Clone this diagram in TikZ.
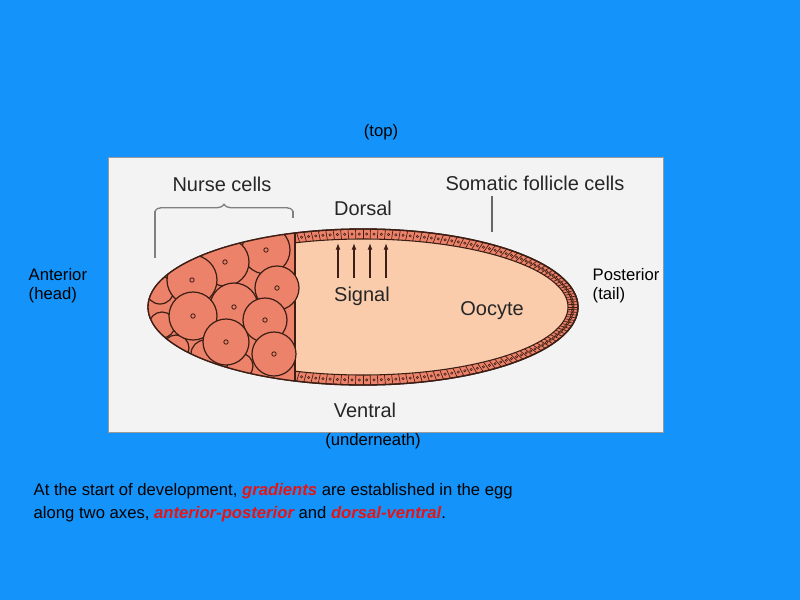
\documentclass[tikz,border=0pt]{standalone}
\usepackage{fontspec}
\setmainfont{Liberation Sans}
\usetikzlibrary{decorations.pathreplacing,arrows.meta,calc}
\definecolor{bg}{RGB}{20,148,250}
\definecolor{panel}{RGB}{243,243,243}
\definecolor{salmon}{RGB}{236,130,106}
\definecolor{peach}{RGB}{250,204,172}
\definecolor{edge}{RGB}{60,30,20}
\definecolor{hl}{RGB}{230,20,20}
\begin{document}
\begin{tikzpicture}[x=0.75pt,y=-0.75pt,
  lab/.style={font=\fontsize{15}{17}\selectfont,text=black!85},
  side/.style={font=\fontsize{12.5}{14.5}\selectfont,align=left,anchor=west},
  nurse/.style={draw=edge,line width=0.9pt,fill=salmon},
  sig/.style={-{Latex[length=5pt]},line width=0.9pt,draw=edge}]
\fill[bg] (0,0) rectangle (800,600);
\useasboundingbox (0,0) rectangle (800,600);
\fill[panel,draw=black!40] (108,157) rectangle (663,432);
% egg
\fill[salmon,draw=edge,line width=1pt] (363,307) ellipse [x radius=215,y radius=78];
\fill[peach,draw=edge,line width=0.8pt] (363,307) ellipse [x radius=205,y radius=68];
\foreach \t in {-108,-106,...,108}{
  \draw[edge,line width=0.5pt] ($(363,307)+(\t:205 and 68)$) -- ($(363,307)+(\t:215 and 78)$);
}
\foreach \t in {-107,-105,...,107}{
  \draw[edge,line width=0.4pt] ($(363,307)+(\t:210 and 73)$) circle[radius=1.2];
}
% nurse region
\begin{scope}
\clip (363,307) ellipse [x radius=215,y radius=78];
\fill[salmon] (140,220) rectangle (295,390);
\draw[edge,line width=0.9pt] (295,229) -- (295,385);
\foreach \p/\r in {{(160,290)}/14,{(162,325)}/13,{(176,348)}/13,{(205,354)}/14,{(240,366)}/13,{(170,262)}/12,{(205,245)}/12}
  \draw[nurse] \p circle[radius=\r];
\foreach \p/\r in {{(266,250)}/24,{(225,262)}/24,{(192,280)}/25,{(277,288)}/22,{(234,307)}/24,{(193,316)}/24,{(265,320)}/22,{(226,342)}/23,{(274,354)}/22}{
  \draw[nurse] \p circle[radius=\r];
  \draw[edge,line width=0.6pt] \p circle[radius=2.2];
}
\end{scope}
\draw[edge,line width=1pt] (363,307) ellipse [x radius=215,y radius=78];
% labels
\node[lab] (nc) at (222,184) {Nurse cells};
\draw[black!50,line width=1pt,decorate,decoration={brace,amplitude=5pt}] (155,211) -- (293,211);
\draw[black!50,line width=1pt] (155,211) -- (155,258) (293,211) -- (293,218);
\node[lab] (dor) at (363,208) {Dorsal};
\node[lab] (sfc) at (535,183) {Somatic follicle cells};
\coordinate (sfcend) at (492,232);
\draw[black!60,line width=1pt] (492,196) -- (sfcend);
\foreach \x in {338,354,370,386} \draw[sig] (\x,278) -- (\x,243);
\node[lab] (sig) at (362,296) {Signal};
\node[lab] (ooc) at (492,311) {Oocyte};
\node[lab] (ven) at (365,410) {Ventral};
\node[side,anchor=center] (top) at (381,132) {(top)};
\node[side,anchor=center] (und) at (373,441) {(underneath)};
\node[side] (ant) at (24,286) {Anterior\\(head)};
\node[side] (post) at (588,286) {Posterior\\(tail)};
\node[side,font=\fontsize{12.5}{17.5}\selectfont] (txt) at (29,503) {At the start of development, \textcolor{hl}{\bfseries\itshape gradients} are established in the egg\\along two axes, \textcolor{hl}{\bfseries\itshape anterior-posterior} and \textcolor{hl}{\bfseries\itshape dorsal-ventral}.};
\end{tikzpicture}
\end{document}
